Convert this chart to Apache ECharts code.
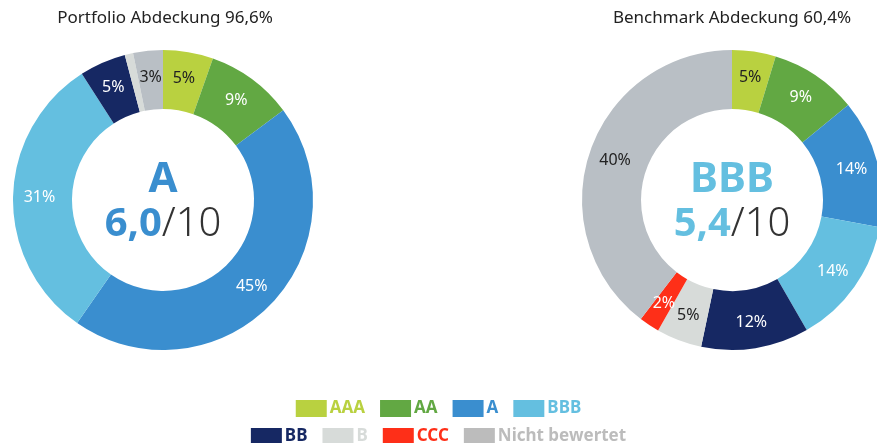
<!DOCTYPE html>
<html>
<head>
<meta charset="utf-8">
<script src="https://cdn.jsdelivr.net/npm/echarts@6/dist/echarts.min.js"></script>
<style>
  html, body { margin: 0; padding: 0; background: #fff; }
  #chart { width: 877px; height: 443px; }
</style>
</head>
<body>
<div id="chart"></div>
<script>
// ratings and shares in %
const ratings = ["AAA", "AA", "A", "BBB", "BB", "B", "CCC", "Nicht bewertet"];
const portfolioValues = [5.4, 9.4, 44.9, 31.2, 5.0, 0.9, 0, 3.2];
const benchmarkValues = [4.7, 9.4, 13.8, 13.8, 11.6, 4.9, 2.2, 39.6];
const portfolioTitle = "Portfolio Abdeckung 96,6%";
const benchmarkTitle = "Benchmark Abdeckung 60,4%";
const portfolioRating = ["A", "6,0", "/10"];
const benchmarkRating = ["BBB", "5,4", "/10"];

const colors = ["#b9d140", "#62a843", "#3a8ecf", "#64bfe0", "#162863", "#d7dbd9", "#fe2f18", "#b9bfc5"];
const legendColors = ["#b9d140", "#62a843", "#3a8ecf", "#64bfe0", "#162863", "#d7dbd9", "#fe2f18", "#bcbcbc"];
const darkLabels = ["AAA", "B", "Nicht bewertet"];
const font = '"Noto Sans", sans-serif';

function pieData(values) {
  return ratings.map(function (name, i) {
    return {
      name: name,
      value: values[i],
      itemStyle: { color: colors[i] },
      label: {
        show: values[i] >= 1.5,
        color: darkLabels.indexOf(name) >= 0 ? "#222" : "#fff"
      }
    };
  });
}

function makePie(values, cx) {
  return {
    type: "pie",
    center: [cx, 200],
    radius: [91, 150],
    startAngle: 90,
    clockwise: true,
    avoidLabelOverlap: false,
    emphasis: { disabled: true },
    label: {
      position: "inside",
      fontFamily: font,
      fontSize: 16,
      formatter: function (p) { return Math.round(p.value) + "%"; }
    },
    labelLine: { show: false },
    data: pieData(values)
  };
}

function legendItems(from, to) {
  let items = [];
  for (let i = from; i < to; i++) {
    items.push({
      name: ratings[i],
      itemStyle: { color: legendColors[i] },
      textStyle: { color: legendColors[i] }
    });
  }
  return items;
}

function centerText(cx, r, color) {
  return [
    {
      type: "text", x: cx, y: 180,
      style: {
        text: r[0], align: "center", verticalAlign: "middle",
        font: "bold 42px " + font, fill: color
      }
    },
    {
      type: "text", x: cx, y: 225,
      style: {
        text: "{b|" + r[1] + "}{l|" + r[2] + "}",
        align: "center", verticalAlign: "middle",
        rich: {
          b: { fontSize: 40, fontWeight: "bold", fontFamily: font, fill: color },
          l: { fontSize: 40, fontWeight: 300, fontFamily: font, fill: "#333" }
        }
      }
    }
  ];
}

let chart = echarts.init(document.getElementById("chart"));

let legendBase = {
  left: "center",
  icon: "rect",
  itemWidth: 31,
  itemHeight: 17,
  itemGap: 15,
  padding: [5, 0, 5, 9],
  selectedMode: false,
  textStyle: { fontFamily: font, fontSize: 17, fontWeight: "bold", padding: [0, 0, 0, -2] }
};

let option = {
  animation: false,
  legend: [
    Object.assign({ data: legendItems(0, 4), top: 395 }, legendBase),
    Object.assign({ data: legendItems(4, 8), top: 423 }, legendBase)
  ],
  graphic: [
    {
      type: "text", x: 165, y: 18,
      style: { text: portfolioTitle, align: "center", verticalAlign: "middle", font: "17px " + font, fill: "#222" }
    },
    {
      type: "text", x: 732, y: 18,
      style: { text: benchmarkTitle, align: "center", verticalAlign: "middle", font: "17px " + font, fill: "#222" }
    }
  ].concat(centerText(163, portfolioRating, "#3a8ecf"), centerText(732, benchmarkRating, "#64bfe0")),
  series: [makePie(portfolioValues, 163), makePie(benchmarkValues, 732)]
};
chart.setOption(option);
</script>
</body>
</html>
